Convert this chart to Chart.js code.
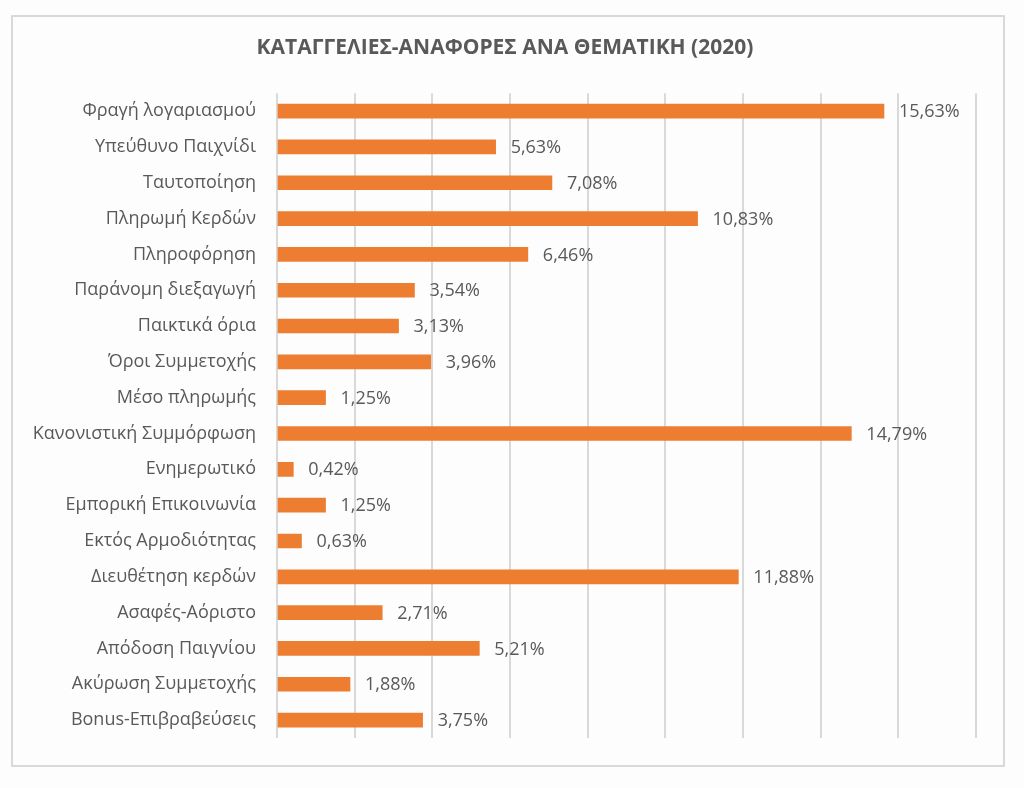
<!DOCTYPE html>
<html>
<head>
<meta charset="utf-8">
<script src="https://cdn.jsdelivr.net/npm/chart.js@4.4.0/dist/chart.umd.min.js"></script>
<style>
  html, body { margin: 0; padding: 0; background: #fdfdfd; }
  #wrap { position: relative; width: 1024px; height: 788px; }
  #frame { position: absolute; left: 11px; top: 15px; width: 990px; height: 748px; border: 2px solid #d9d9d9; pointer-events: none; }
  canvas { position: absolute; left: 0; top: 0; }
</style>
</head>
<body>
<div id="wrap">
  <canvas id="chart" width="1024" height="788"></canvas>
  <div id="frame"></div>
</div>
<script>
const titulo = 'ΚΑΤΑΓΓΕΛΙΕΣ-ΑΝΑΦΟΡΕΣ ΑΝΑ ΘΕΜΑΤΙΚΗ (2020)';

const categorias = [
  'Φραγή λογαριασμού',
  'Υπεύθυνο Παιχνίδι',
  'Ταυτοποίηση',
  'Πληρωμή Κερδών',
  'Πληροφόρηση',
  'Παράνομη διεξαγωγή',
  'Παικτικά όρια',
  'Όροι Συμμετοχής',
  'Μέσο πληρωμής',
  'Κανονιστική Συμμόρφωση',
  'Ενημερωτικό',
  'Εμπορική Επικοινωνία',
  'Εκτός Αρμοδιότητας',
  'Διευθέτηση κερδών',
  'Ασαφές-Αόριστο',
  'Απόδοση Παιγνίου',
  'Ακύρωση Συμμετοχής',
  'Bonus-Επιβραβεύσεις'
];

const porcentajes = [15.63, 5.63, 7.08, 10.83, 6.46, 3.54, 3.13, 3.96, 1.25, 14.79, 0.42, 1.25, 0.63, 11.88, 2.71, 5.21, 1.88, 3.75];

const ejeMin = 0;
const ejeMax = 18;
const ejePaso = 2;

const colorBarra = '#ED7D31';
const colorTexto = '#595959';
const fuente = "'Open Sans', 'Noto Sans', sans-serif";

// etiquetas de valor a la derecha de cada barra
const etiquetasValor = {
  id: 'etiquetasValor',
  afterDatasetsDraw(chart) {
    const ctx = chart.ctx;
    const meta = chart.getDatasetMeta(0);
    ctx.save();
    ctx.font = `18px ${fuente}`;
    ctx.fillStyle = colorTexto;
    ctx.textAlign = 'left';
    ctx.textBaseline = 'middle';
    meta.data.forEach((bar, i) => {
      const texto = porcentajes[i].toFixed(2).replace('.', ',') + '%';
      ctx.fillText(texto, bar.x + 15, bar.y + 1);
    });
    ctx.restore();
  }
};

new Chart(document.getElementById('chart'), {
  type: 'bar',
  data: {
    labels: categorias,
    datasets: [{
      data: porcentajes,
      backgroundColor: colorBarra,
      barThickness: 14
    }]
  },
  options: {
    indexAxis: 'y',
    responsive: false,
    animation: false,
    layout: { padding: { left: 34, right: 48, top: 0, bottom: 50 } },
    plugins: {
      legend: { display: false },
      tooltip: { enabled: false },
      title: {
        display: true,
        text: titulo,
        color: colorTexto,
        font: { family: fuente, size: 21, weight: 'bold' },
        padding: { top: 35, bottom: 33 }
      }
    },
    scales: {
      x: {
        min: ejeMin,
        max: ejeMax,
        ticks: { display: false, stepSize: ejePaso },
        grid: { color: '#d9d9d9', lineWidth: 2, drawTicks: false },
        border: { display: false }
      },
      y: {
        afterFit(scale) { scale.width = 243; },
        ticks: {
          color: colorTexto,
          font: { family: fuente, size: 18 },
          padding: 13,
          autoSkip: false
        },
        grid: { display: false },
        border: { display: false }
      }
    }
  },
  plugins: [etiquetasValor]
});
</script>
</body>
</html>
